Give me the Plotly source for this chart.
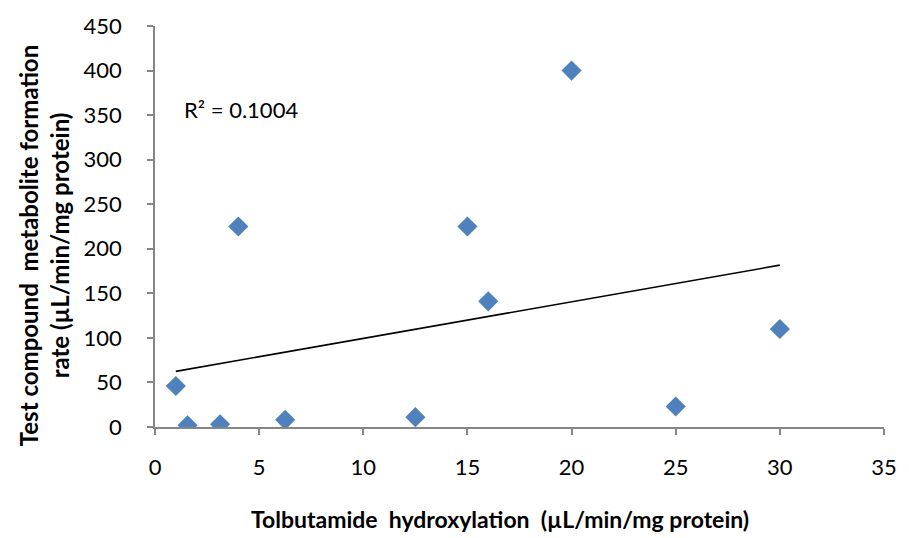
import numpy as np
import plotly.graph_objects as go

# Data
tolbutamide = [1.0, 1.5625, 3.125, 4.0, 6.25, 12.5, 15.0, 16.0, 20.0, 25.0, 30.0]
test_compound = [46, 2, 3, 225, 8, 11, 225, 141, 400, 23, 110]
x_ticks = [0, 5, 10, 15, 20, 25, 30, 35]
y_ticks = [0, 50, 100, 150, 200, 250, 300, 350, 400, 450]
r2_label = "R² = 0.1004"

x = np.array(tolbutamide)
y = np.array(test_compound)
slope, intercept = np.polyfit(x, y, 1)
x_line = np.array([x.min(), x.max()])
y_line = slope * x_line + intercept

FONT = "Lato"
AXIS_COLOR = "#868686"

fig = go.Figure()
fig.add_trace(go.Scatter(
    x=x, y=y, mode="markers",
    marker=dict(symbol="diamond", size=15.5, color="#4F81BD", line=dict(width=0)),
    showlegend=False, hoverinfo="skip",
))
fig.add_trace(go.Scatter(
    x=x_line, y=y_line, mode="lines",
    line=dict(color="black", width=1.6),
    showlegend=False, hoverinfo="skip",
))

fig.update_layout(
    width=909, height=538,
    margin=dict(l=155, r=17, t=22, b=111),
    plot_bgcolor="white", paper_bgcolor="white",
    font=dict(family=FONT, size=22, color="black"),
    xaxis=dict(range=[0, 35], tickvals=x_ticks, showgrid=False, zeroline=False,
               showline=True, linecolor=AXIS_COLOR, linewidth=1.5,
               ticks="outside", ticklen=6, tickcolor=AXIS_COLOR, tickwidth=1.5,
               ticklabelstandoff=14,
               tickfont=dict(family=FONT, size=22), fixedrange=True),
    yaxis=dict(range=[0, 450], tickvals=y_ticks, showgrid=False, zeroline=False,
               showline=True, linecolor=AXIS_COLOR, linewidth=1.5,
               ticks="outside", ticklen=6, tickcolor=AXIS_COLOR, tickwidth=1.5,
               ticklabelstandoff=21,
               tickfont=dict(family=FONT, size=22), fixedrange=True),
)

fig.add_annotation(
    text="<b>Tolbutamide  hydroxylation  (µL/min/mg protein)</b>",
    xref="paper", yref="paper", x=0.4735, y=-0.23,
    xanchor="center", yanchor="middle", showarrow=False,
    font=dict(family=FONT, size=23, color="black"),
)
fig.add_annotation(
    text="<b>Test compound  metabolite formation<br>rate (µL/min/mg protein)</b>",
    xref="paper", yref="paper", x=-0.153, y=0.452,
    xanchor="center", yanchor="middle", textangle=-90, showarrow=False,
    font=dict(family=FONT, size=24, color="black"),
)
fig.add_annotation(
    text=r2_label,
    xref="x", yref="y", x=1.3, y=356,
    xanchor="left", yanchor="middle", showarrow=False,
    font=dict(family=FONT, size=22, color="black"),
)

fig.write_html("out.html")
